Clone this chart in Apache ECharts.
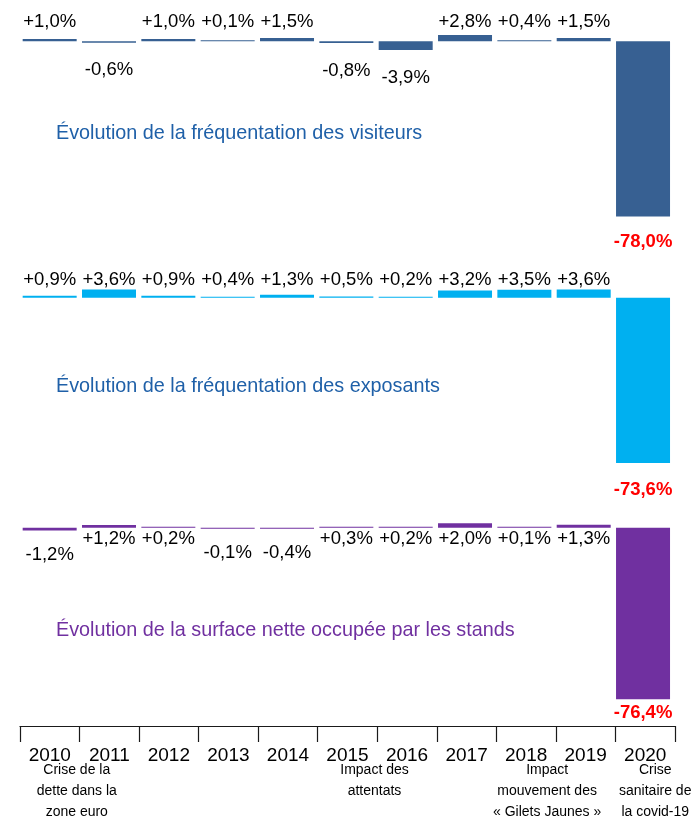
<!DOCTYPE html>
<html>
<head>
<meta charset="utf-8">
<script src="https://cdn.jsdelivr.net/npm/echarts@6/dist/echarts.min.js"></script>
<style>
html, body { margin: 0; padding: 0; background: #fff; }
#main { width: 693px; height: 818px; }
</style>
</head>
<body>
<div id="main"></div>
<script>
var years = ['2010', '2011', '2012', '2013', '2014', '2015', '2016', '2017', '2018', '2019', '2020'];
var visiteurs = [1.0, -0.6, 1.0, 0.1, 1.5, -0.8, -3.9, 2.8, 0.4, 1.5, -78.0];
var exposants = [0.9, 3.6, 0.9, 0.4, 1.3, 0.5, 0.2, 3.2, 3.5, 3.6, -73.6];
var surface = [-1.2, 1.2, 0.2, -0.1, -0.4, 0.3, 0.2, 2.0, 0.1, 1.3, -76.4];
var titres = [
    'Évolution de la fréquentation des visiteurs',
    'Évolution de la fréquentation des exposants',
    'Évolution de la surface nette occupée par les stands'
];
var evenements = [
    { annee: '2010', texte: 'Crise de la\ndette dans la\nzone euro' },
    { annee: '2015', texte: 'Impact des\nattentats' },
    { annee: '2018', texte: 'Impact\nmouvement des\n« Gilets Jaunes »' },
    { annee: '2020', texte: 'Crise\nsanitaire de\nla covid-19' }
];

var FONT = '"Liberation Sans", Arial, sans-serif';
var PX = 2.245;          // pixels par point de %
var YMIN = -80, YMAX = 10;

var chart = echarts.init(document.getElementById('main'));

function fmt(v) {
    return (v > 0 ? '+' : '') + v.toFixed(1).replace('.', ',') + '%';
}

// panneaux : ligne de base (px), couleur, placement des étiquettes
var panneaux = [
    { base: 41.3, couleur: '#376092', titreCouleur: '#1F60A8', titreTop: 124,
      pos: ['insideBottom', 10], neg: ['bottom', 18], fin: 16 },
    { base: 297.7, couleur: '#00B0F0', titreCouleur: '#1F60A8', titreTop: 377,
      pos: ['insideBottom', 8.5], neg: ['bottom', 18], fin: 17.5 },
    { base: 527.7, couleur: '#7030A0', titreCouleur: '#7030A0', titreTop: 621,
      pos: ['bottom', 1.5], neg: ['bottom', 15], fin: 4 }
];
var series_vals = [visiteurs, exposants, surface];

var grids = [], xAxes = [], yAxes = [], series = [], titles = [];
panneaux.forEach(function (p, i) {
    grids.push({ left: 20, right: 20.3, top: p.base - YMAX * PX, height: (YMAX - YMIN) * PX });
    xAxes.push({ type: 'category', gridIndex: i, data: years, show: false });
    yAxes.push({ type: 'value', gridIndex: i, min: YMIN, max: YMAX, show: false });
    titles.push({
        text: titres[i], left: 56, top: p.titreTop, padding: 0,
        textStyle: { fontFamily: FONT, fontSize: 19.8, fontWeight: 'normal', color: p.titreCouleur }
    });
    var data = series_vals[i].map(function (v, k) {
        var last = k === years.length - 1;
        var cfg = v >= 0 ? p.pos : p.neg;
        var label = { position: cfg[0], distance: cfg[1] };
        if (last) {
            label = { position: 'bottom', distance: p.fin, color: '#FF0000', fontWeight: 'bold', fontSize: 18.5 };
        }
        return { value: v, label: label };
    });
    series.push({
        type: 'bar',
        xAxisIndex: i,
        yAxisIndex: i,
        barWidth: 54,
        barMinHeight: 1,
        itemStyle: { color: p.couleur },
        label: {
            show: true,
            color: '#000',
            fontFamily: FONT,
            fontSize: 18.5,
            textBorderWidth: 0,
            formatter: function (pr) { return fmt(pr.value); }
        },
        data: data
    });
});

// axe des années en bas
grids.push({ left: 20, right: 18, top: 725, height: 1 });
xAxes.push({
    type: 'category', gridIndex: 3, data: years,
    axisLine: { lineStyle: { color: '#1a1a1a', width: 1.2 } },
    axisTick: { show: true, alignWithLabel: false, interval: 0, length: 16, lineStyle: { color: '#1a1a1a', width: 1.2 } },
    axisLabel: { interval: 0, margin: 20, color: '#000', fontFamily: FONT, fontSize: 19 }
});
yAxes.push({ type: 'value', gridIndex: 3, show: false });

chart.setOption({
    animation: false,
    title: titles,
    grid: grids,
    xAxis: xAxes,
    yAxis: yAxes,
    series: series
});

// annotations sous les années
var decalage = { '2010': 27, '2015': 27, '2018': 21, '2020': 10 };
var graphics = evenements.map(function (e) {
    var x = chart.convertToPixel({ xAxisIndex: 3 }, e.annee) + decalage[e.annee];
    return {
        type: 'text',
        x: x,
        y: 760,
        style: {
            text: e.texte,
            align: 'center',
            verticalAlign: 'top',
            font: '14px ' + FONT,
            lineHeight: 21,
            fill: '#000'
        }
    };
});
chart.setOption({ graphic: graphics });
</script>
</body>
</html>
